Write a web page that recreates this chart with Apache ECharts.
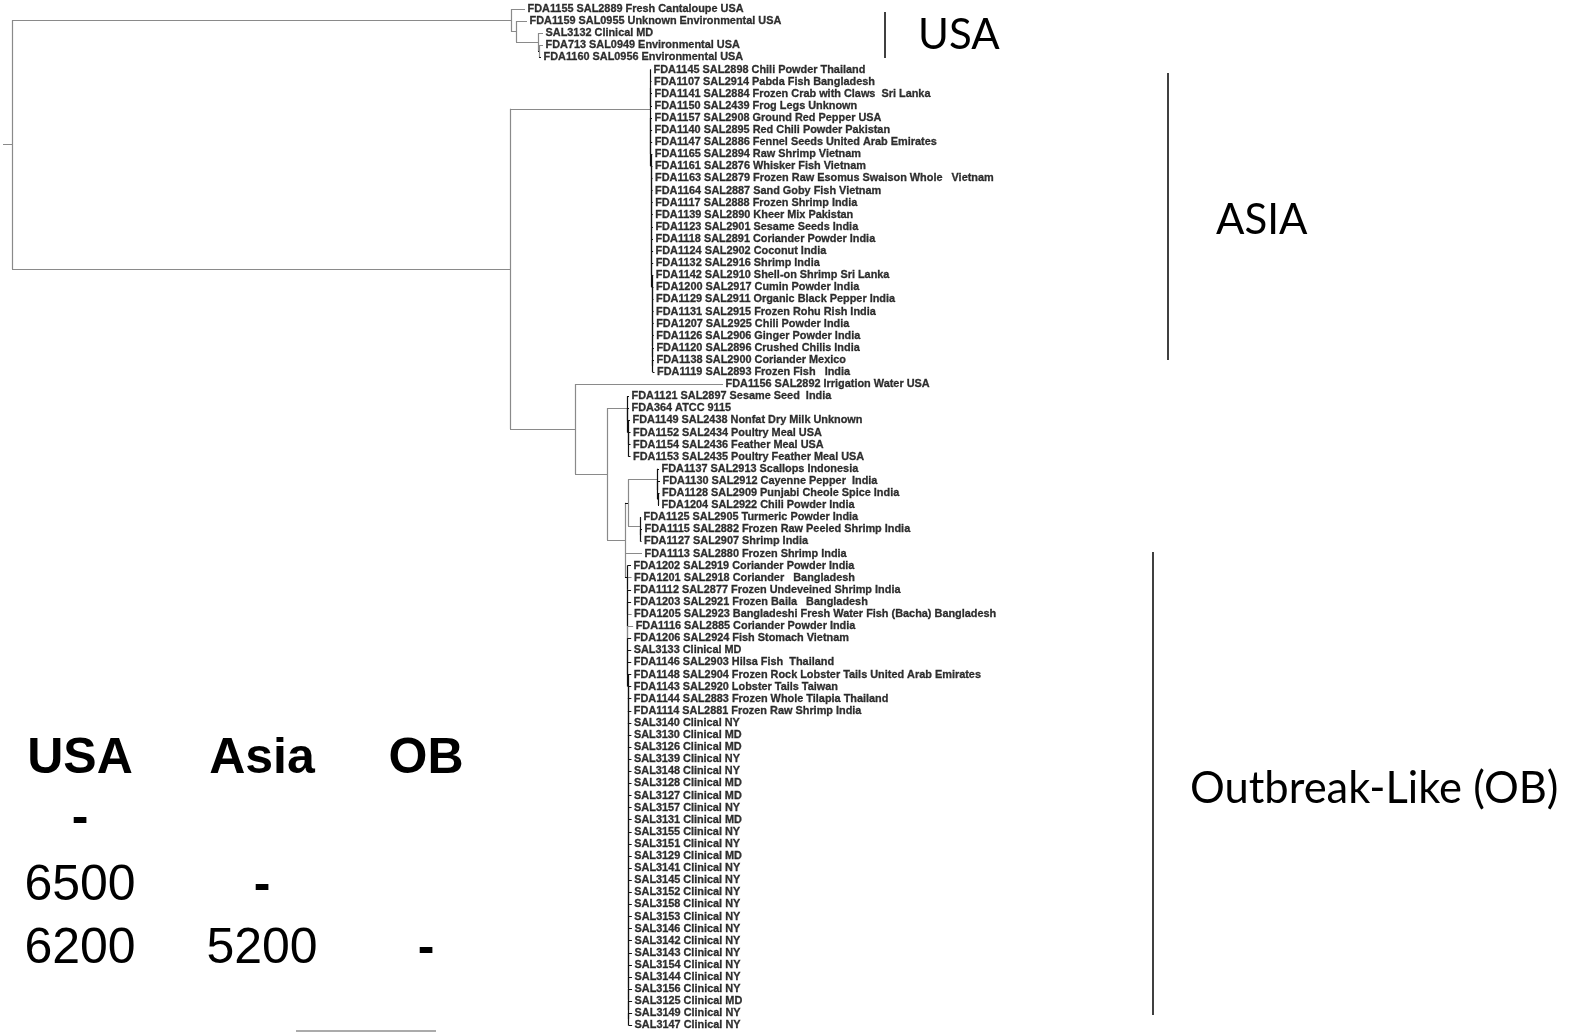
<!DOCTYPE html>
<html>
<head>
<meta charset="utf-8">
<script src="https://cdn.jsdelivr.net/npm/echarts@6/dist/echarts.min.js"></script>
<style>
  html, body { margin: 0; padding: 0; background: #ffffff; }
  #chart { width: 1574px; height: 1036px; }
</style>
</head>
<body>
<div id="chart"></div>
<script>
// Isolate labels, listed top to bottom in tree order
const leafNames = [
  'FDA1155 SAL2889 Fresh Cantaloupe USA',
  'FDA1159 SAL0955 Unknown Environmental USA',
  'SAL3132 Clinical MD',
  'FDA713 SAL0949 Environmental USA',
  'FDA1160 SAL0956 Environmental USA',
  'FDA1145 SAL2898 Chili Powder Thailand',
  'FDA1107 SAL2914 Pabda Fish Bangladesh',
  'FDA1141 SAL2884 Frozen Crab with Claws  Sri Lanka',
  'FDA1150 SAL2439 Frog Legs Unknown',
  'FDA1157 SAL2908 Ground Red Pepper USA',
  'FDA1140 SAL2895 Red Chili Powder Pakistan',
  'FDA1147 SAL2886 Fennel Seeds United Arab Emirates',
  'FDA1165 SAL2894 Raw Shrimp Vietnam',
  'FDA1161 SAL2876 Whisker Fish Vietnam',
  'FDA1163 SAL2879 Frozen Raw Esomus Swaison Whole   Vietnam',
  'FDA1164 SAL2887 Sand Goby Fish Vietnam',
  'FDA1117 SAL2888 Frozen Shrimp India',
  'FDA1139 SAL2890 Kheer Mix Pakistan',
  'FDA1123 SAL2901 Sesame Seeds India',
  'FDA1118 SAL2891 Coriander Powder India',
  'FDA1124 SAL2902 Coconut India',
  'FDA1132 SAL2916 Shrimp India',
  'FDA1142 SAL2910 Shell-on Shrimp Sri Lanka',
  'FDA1200 SAL2917 Cumin Powder India',
  'FDA1129 SAL2911 Organic Black Pepper India',
  'FDA1131 SAL2915 Frozen Rohu Rish India',
  'FDA1207 SAL2925 Chili Powder India',
  'FDA1126 SAL2906 Ginger Powder India',
  'FDA1120 SAL2896 Crushed Chilis India',
  'FDA1138 SAL2900 Coriander Mexico',
  'FDA1119 SAL2893 Frozen Fish   India',
  'FDA1156 SAL2892 Irrigation Water USA',
  'FDA1121 SAL2897 Sesame Seed  India',
  'FDA364 ATCC 9115',
  'FDA1149 SAL2438 Nonfat Dry Milk Unknown',
  'FDA1152 SAL2434 Poultry Meal USA',
  'FDA1154 SAL2436 Feather Meal USA',
  'FDA1153 SAL2435 Poultry Feather Meal USA',
  'FDA1137 SAL2913 Scallops Indonesia',
  'FDA1130 SAL2912 Cayenne Pepper  India',
  'FDA1128 SAL2909 Punjabi Cheole Spice India',
  'FDA1204 SAL2922 Chili Powder India',
  'FDA1125 SAL2905 Turmeric Powder India',
  'FDA1115 SAL2882 Frozen Raw Peeled Shrimp India',
  'FDA1127 SAL2907 Shrimp India',
  'FDA1113 SAL2880 Frozen Shrimp India',
  'FDA1202 SAL2919 Coriander Powder India',
  'FDA1201 SAL2918 Coriander   Bangladesh',
  'FDA1112 SAL2877 Frozen Undeveined Shrimp India',
  'FDA1203 SAL2921 Frozen Baila   Bangladesh',
  'FDA1205 SAL2923 Bangladeshi Fresh Water Fish (Bacha) Bangladesh',
  'FDA1116 SAL2885 Coriander Powder India',
  'FDA1206 SAL2924 Fish Stomach Vietnam',
  'SAL3133 Clinical MD',
  'FDA1146 SAL2903 Hilsa Fish  Thailand',
  'FDA1148 SAL2904 Frozen Rock Lobster Tails United Arab Emirates',
  'FDA1143 SAL2920 Lobster Tails Taiwan',
  'FDA1144 SAL2883 Frozen Whole Tilapia Thailand',
  'FDA1114 SAL2881 Frozen Raw Shrimp India',
  'SAL3140 Clinical NY',
  'SAL3130 Clinical MD',
  'SAL3126 Clinical MD',
  'SAL3139 Clinical NY',
  'SAL3148 Clinical NY',
  'SAL3128 Clinical MD',
  'SAL3127 Clinical MD',
  'SAL3157 Clinical NY',
  'SAL3131 Clinical MD',
  'SAL3155 Clinical NY',
  'SAL3151 Clinical NY',
  'SAL3129 Clinical MD',
  'SAL3141 Clinical NY',
  'SAL3145 Clinical NY',
  'SAL3152 Clinical NY',
  'SAL3158 Clinical NY',
  'SAL3153 Clinical NY',
  'SAL3146 Clinical NY',
  'SAL3142 Clinical NY',
  'SAL3143 Clinical NY',
  'SAL3154 Clinical NY',
  'SAL3144 Clinical NY',
  'SAL3156 Clinical NY',
  'SAL3125 Clinical MD',
  'SAL3149 Clinical NY',
  'SAL3147 Clinical NY'
];

// Terminal branch lengths of the two large caterpillar clades (display units)
const asiaCombIds = [9, 10, 11, 12, 13, 14, 15, 16, 17, 18, 19, 20, 21, 22, 23, 24, 25, 26, 27, 28, 29, 30];
const asiaCombTips = [1.5, 1.5, 1.5, 1.5, 1.5, 1.5, 1.5, 1.5, 1.5, 1.5, 1.5, 1.5, 1.5, 1.5, 1.5, 1.5, 1.5, 1.5, 1.5, 1.5, 1.5, 2];
const obCombIds = [46, 47, 48, 49, 50, 51, 52, 53, 54, 55, 56, 57, 58, 59, 60, 61, 62, 63, 64, 65,
                   66, 67, 68, 69, 70, 71, 72, 73, 74, 75, 76, 77, 78, 79, 80, 81, 82, 83, 84];
const obCombTips = [3.5, 4, 3.5, 3.5, 4, 5.5, 3.5, 3.5, 3.5, 3.5, 3.5, 3.5, 3.5, 3.5, 3.5, 3.5, 3.5, 3.5, 3.5, 3.5,
                    3.5, 3.5, 3.5, 3.5, 3.5, 3.5, 3.5, 3.5, 3.5, 3.5, 3.5, 3.5, 3.5, 3.5, 3.5, 3.5, 3.5, 3.5, 3.5];

// Pairwise distances between the three clusters
const clusterHeaders = ['USA', 'Asia', 'OB'];
const distanceRows = [
  ['-', '', ''],
  ['6500', '-', ''],
  ['6200', '5200', '-']
];
const clusterNames = ['USA', 'ASIA', 'Outbreak-Like (OB)'];
const scaleBarLength = 140;

// --- tree builders ---
function L(i, len) { return { leaf: i, len: len }; }
function N(len, children) { return { len: len, children: children }; }
function comb(len, ids, tips, step) {
  const n = ids.length;
  let node = N(step, [L(ids[n - 2], tips[n - 2]), L(ids[n - 1], tips[n - 1])]);
  for (let k = n - 3; k >= 0; k--) node = N(k === 0 ? len : step, [L(ids[k], tips[k]), node]);
  return node;
}

const tree = N(9, [
  // USA cluster
  N(499, [L(0, 14), N(5, [L(1, 11), N(22, [L(2, 5), N(1, [L(3, 4), L(4, 2)])])])]),
  N(498, [
    // Asia cluster
    N(140, [
      N(0.5, [L(5, 0.5), L(6, 1), L(7, 1.5), L(8, 1.5)]),
      comb(0.5, asiaCombIds, asiaCombTips, 0.1)
    ]),
    N(65, [
      L(31, 148),
      N(32, [
        N(20, [L(32, 2), N(0.5, [L(33, 1.5), N(0.5, [L(34, 2), N(0.5, [L(35, 2), L(36, 2), L(37, 2)])])])]),
        N(18, [
          N(3, [
            N(29, [L(38, 2), N(0.5, [L(39, 2.5), N(0.5, [L(40, 1.5), L(41, 1)])])]),
            N(12, [L(42, 1), N(0.5, [L(43, 1.5), L(44, 1)])])
          ]),
          L(45, 17),
          // Outbreak-like cluster
          comb(2.5, obCombIds, obCombTips, 0.03)
        ])
      ])
    ])
  ])
]);

// --- rectangular dendrogram layout ---
function layout(node, x0) {
  node.x = x0 + node.len;
  if (node.children) {
    node.children.forEach(c => layout(c, node.x));
    const first = node.children[0].y, last = node.children[node.children.length - 1].y;
    node.y = (first + last) / 2;
  } else {
    node.y = node.leaf;
  }
}
layout(tree, 0);

const thin = 3.5;
const greySegs = [], darkSegs = [], tips = [];
function collect(node, parentX) {
  const h = [[parentX, node.y], [node.x, node.y]];
  (node.len <= thin ? darkSegs : greySegs).push({ coords: h });
  if (node.children) {
    const ys = node.children.map(c => c.y);
    const maxLen = Math.max.apply(null, node.children.map(c => c.len));
    const v = [[node.x, ys[0]], [node.x, ys[ys.length - 1]]];
    (maxLen <= thin ? darkSegs : greySegs).push({ coords: v });
    node.children.forEach(c => collect(c, node.x));
  } else {
    tips.push([node.x, node.leaf, leafNames[node.leaf]]);
  }
}
collect(tree, 0);

const chart = echarts.init(document.getElementById('chart'), null, { renderer: 'canvas' });

const rowTop = 9, rowStep = 12.1, nLeaves = leafNames.length;
const gridLeft = 3;
const W = 1574, H = 1036;

const option = {
  backgroundColor: '#ffffff',
  animation: false,
  grid: {
    left: gridLeft, right: 0, top: rowTop,
    bottom: H - (rowTop + rowStep * (nLeaves - 1)),
    containLabel: false
  },
  xAxis: { type: 'value', min: 0, max: W - gridLeft, show: false },
  yAxis: { type: 'value', min: 0, max: nLeaves - 1, inverse: true, show: false },
  series: [
    {
      type: 'lines', coordinateSystem: 'cartesian2d', polyline: false, silent: true,
      lineStyle: { color: '#8a8a8a', width: 1.2, opacity: 1 },
      data: greySegs
    },
    {
      type: 'lines', coordinateSystem: 'cartesian2d', polyline: false, silent: true,
      lineStyle: { color: '#111111', width: 1.2, opacity: 1 },
      data: darkSegs
    },
    {
      type: 'scatter', silent: true, symbol: 'circle', symbolSize: 1,
      itemStyle: { color: 'rgba(0,0,0,0)' },
      emphasis: { disabled: true },
      data: tips,
      label: {
        show: true, position: 'right', distance: 2,
        formatter: p => p.value[2],
        color: '#000', fontSize: 10.9, fontWeight: 'bold',
        fontFamily: '"Liberation Sans", Arial, sans-serif',
        textBorderColor: '#000', textBorderWidth: 0.3
      }
    }
  ]
};
chart.setOption(option);

// Cluster brackets, cluster names, distance table and scale bar
const graphics = [];
const brackets = [
  { x: 885, y1: 12, y2: 58, tx: 918, ty: 35, size: 42 },
  { x: 1168, y1: 73, y2: 360, tx: 1216, ty: 220, size: 42 },
  { x: 1153, y1: 552, y2: 1015, tx: 1190, ty: 789, size: 43.5 }
];
brackets.forEach((b, i) => {
  graphics.push({
    type: 'line', silent: true,
    shape: { x1: b.x, y1: b.y1, x2: b.x, y2: b.y2 },
    style: { stroke: '#000', lineWidth: 1.5 }
  });
  graphics.push({
    type: 'text', silent: true,
    style: {
      text: clusterNames[i], x: b.tx, y: b.ty, fill: '#000',
      fontSize: b.size, fontFamily: 'Lato, "Open Sans", sans-serif',
      align: 'left', verticalAlign: 'middle'
    }
  });
});

const colX = [80, 262, 426];
const headerY = 759, rowY = [819, 886, 949];
clusterHeaders.forEach((h, c) => {
  graphics.push({
    type: 'text', silent: true,
    style: {
      text: h, x: colX[c], y: headerY, fill: '#000',
      fontSize: 50, fontWeight: 'bold', fontFamily: '"Liberation Sans", Arial, sans-serif',
      align: 'center', verticalAlign: 'middle'
    }
  });
});
distanceRows.forEach((row, r) => {
  row.forEach((val, c) => {
    if (!val) return;
    graphics.push({
      type: 'text', silent: true,
      style: {
        text: val, x: colX[c], y: rowY[r], fill: '#000',
        fontSize: 50, fontFamily: '"Liberation Sans", Arial, sans-serif',
        fontWeight: val === '-' ? 'bold' : 'normal',
        align: 'center', verticalAlign: 'middle'
      }
    });
  });
});

const p0 = chart.convertToPixel({ gridIndex: 0 }, [0, 0]);
const p1 = chart.convertToPixel({ gridIndex: 0 }, [scaleBarLength, 0]);
const barLeft = 296, barY = 1031;
graphics.push({
  type: 'line', silent: true,
  shape: { x1: barLeft, y1: barY, x2: barLeft + (p1[0] - p0[0]), y2: barY },
  style: { stroke: '#ababab', lineWidth: 2 }
});

chart.setOption({ graphic: graphics });
</script>
</body>
</html>
